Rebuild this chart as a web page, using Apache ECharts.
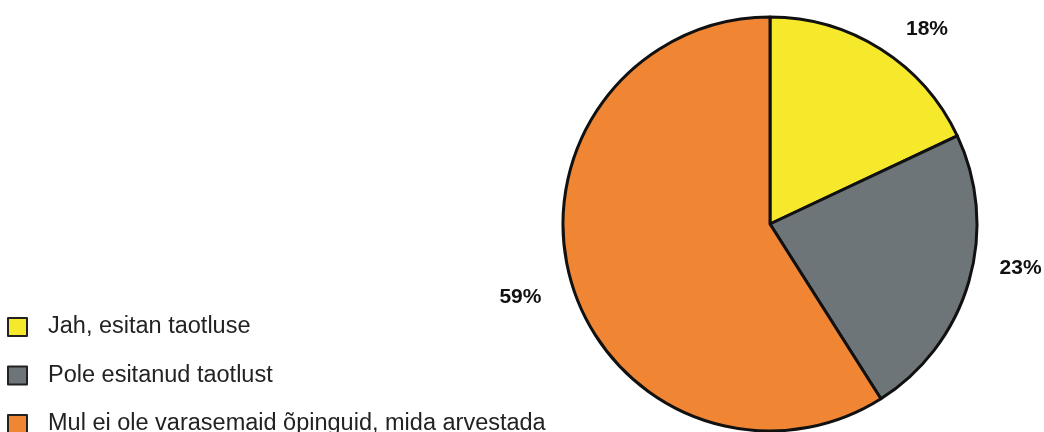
<!DOCTYPE html>
<html><head><meta charset="utf-8">
<script src="https://cdn.jsdelivr.net/npm/echarts@6/dist/echarts.min.js"></script>
<style>html,body{margin:0;padding:0;background:#fff}#c{width:1044px;height:432px}</style>
</head><body><div id="c"></div>
<script>
const categories = ['Jah, esitan taotluse', 'Pole esitanud taotlust', 'Mul ei ole varasemaid õpinguid, mida arvestada'];
const values = [18, 23, 59];
const colors = ['#F6E82B', '#6E7578', '#F08534'];

const chart = echarts.init(document.getElementById('c'), null, {renderer: 'canvas'});
chart.setOption({
  animation: false,
  color: colors,
  legend: {
    orient: 'vertical',
    left: 7,
    top: 315,
    height: 200,
    padding: 0,
    itemWidth: 19,
    itemHeight: 18,
    itemGap: 24.5,
    icon: 'rect',
    itemStyle: {borderColor: '#222', borderWidth: 2},
    textStyle: {fontFamily: 'Liberation Sans, Arial', fontSize: 23.5, color: '#222', padding: [0, 0, 0, 16]},
    data: categories
  },
  series: [{
    type: 'pie',
    center: [770, 224],
    radius: 207,
    startAngle: 90,
    clockwise: true,
    data: categories.map((n, i) => ({name: n, value: values[i]})),
    itemStyle: {borderColor: '#111', borderWidth: 3},
    label: {
      show: true,
      position: 'outside',
      formatter: '{c}%',
      fontFamily: 'Liberation Sans, Arial',
      fontWeight: 'bold',
      fontSize: 21,
      color: '#111',
      overflow: 'none'
    },
    labelLine: {show: false, length: 30, length2: 0},
    labelLayout: function (p) {
      const d = [[4, 5], [-3, -22], [4, 7]][p.dataIndex];
      return {dx: d[0], dy: d[1]};
    },
    emphasis: {disabled: true}
  }]
});
</script></body></html>
